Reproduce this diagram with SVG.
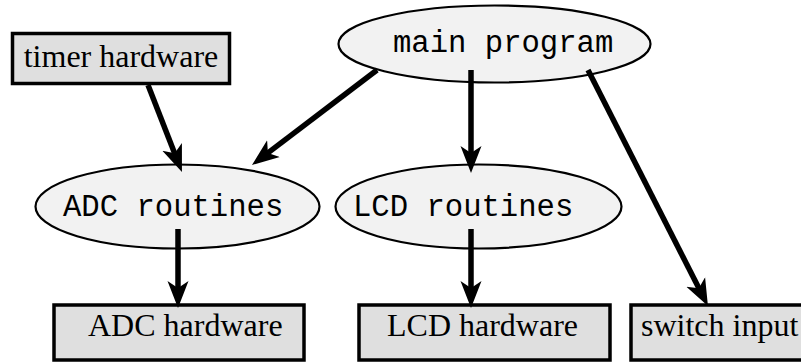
<svg xmlns="http://www.w3.org/2000/svg" width="801" height="362" viewBox="0 0 801 362">
<style>
.box{fill:#dfdfdf;stroke:#000;stroke-width:3.5}
.ell{fill:#f2f2f2;stroke:#000;stroke-width:2.2}
.serif{font-family:"Liberation Serif",serif;font-size:32px;fill:#000}
.mono{font-family:"Liberation Mono",monospace;font-size:30.6px;fill:#000}
.edge{stroke:#000;stroke-width:5.5;fill:none;marker-end:url(#arr)}
</style>
<defs>
<marker id="arr" viewBox="0 -11 28 22" refX="9" refY="0" markerWidth="28" markerHeight="22" markerUnits="userSpaceOnUse" orient="auto">
<path d="M0,-10.5 L27,0 L0,10.5 L7,0 z" fill="#000"/>
</marker>
</defs>
<rect width="801" height="362" fill="#fff"/>
<g id="timer-hardware">
<rect class="box" x="12.5" y="33.5" width="217" height="50"/>
<text class="serif" x="121" y="67" text-anchor="middle">timer hardware</text>
</g>
<g id="main-program">
<ellipse class="ell" cx="494.5" cy="44" rx="156" ry="38.5"/>
<text class="mono" x="393" y="52">main program</text>
</g>
<g id="adc-routines">
<ellipse class="ell" cx="177.5" cy="206.5" rx="142" ry="42"/>
<text class="mono" x="63" y="216">ADC routines</text>
</g>
<g id="lcd-routines">
<ellipse class="ell" cx="478.5" cy="206.5" rx="143" ry="42"/>
<text class="mono" x="353" y="216">LCD routines</text>
</g>
<g id="adc-hardware">
<rect class="box" x="54" y="305" width="250" height="55"/>
<text class="serif" x="88" y="336">ADC hardware</text>
</g>
<g id="lcd-hardware">
<rect class="box" x="359" y="305" width="251" height="55"/>
<text class="serif" x="387" y="336">LCD hardware</text>
</g>
<g id="switch-input">
<rect class="box" x="631" y="305" width="200" height="55"/>
<text class="serif" x="641" y="336">switch input</text>
</g>
<g id="connectors">
<line class="edge" x1="148" y1="85" x2="175.4" y2="155.2"/>
<line class="edge" x1="377" y1="70" x2="266.3" y2="154.1"/>
<line class="edge" x1="471" y1="70" x2="471" y2="155"/>
<line class="edge" x1="588" y1="70" x2="699.8" y2="290"/>
<line class="edge" x1="178" y1="229" x2="178" y2="290"/>
<line class="edge" x1="471" y1="229" x2="471" y2="290"/>
</g>
</svg>
